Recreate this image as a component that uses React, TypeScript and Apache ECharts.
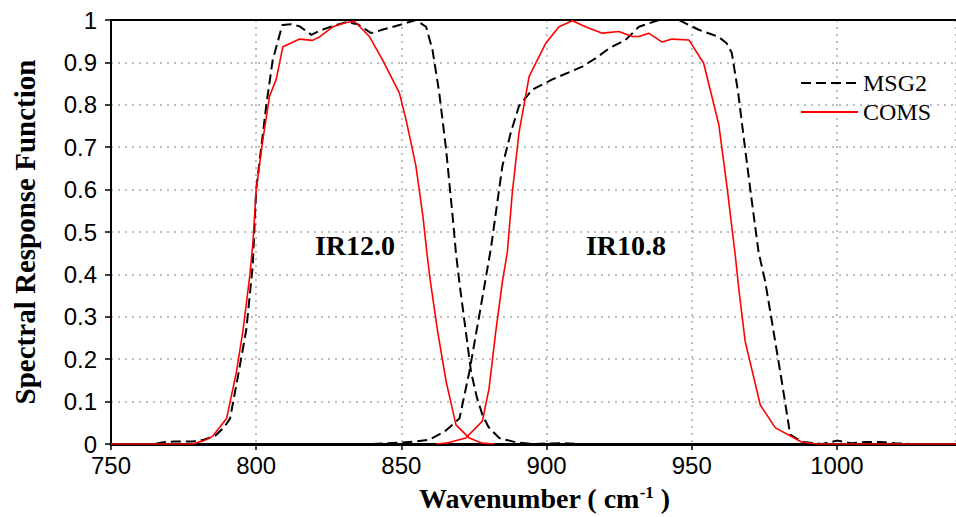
import React, { useEffect, useRef } from "react";
import * as echarts from "echarts";

// ---- data (wavenumber cm-1, spectral response) ----
const msg2Ir120: [number, number][] = [
  [750, 0], [765, 0], [768, 0.004], [772, 0.006], [778, 0.006], [782, 0.01], [786, 0.02], [789, 0.04],
  [791, 0.06], [794, 0.17], [796.6, 0.27], [798.8, 0.42], [800, 0.6], [803.5, 0.8], [805.7, 0.906],
  [809, 0.988], [812, 0.99], [815, 0.985], [819, 0.965], [822, 0.975], [826, 0.985], [831, 0.995],
  [835, 0.99], [839.6, 0.969], [844, 0.978], [849.3, 0.988], [855, 1.0], [858.5, 0.984], [860.7, 0.93],
  [863, 0.83], [865.4, 0.695], [867.6, 0.54], [868.8, 0.45], [870, 0.38], [872.2, 0.265], [874, 0.17],
  [876, 0.11], [877.9, 0.069], [880, 0.04], [883.7, 0.014], [889.4, 0.004], [895, 0], [905, 0.002],
  [912, 0],
];
const msg2Ir108: [number, number][] = [
  [840, 0], [849.3, 0.003], [855, 0.006], [859.6, 0.01], [865, 0.03], [870, 0.06], [873.4, 0.17],
  [877, 0.31], [880.8, 0.46], [884.8, 0.656], [887.7, 0.735], [890.5, 0.797], [895.1, 0.836], [902, 0.86],
  [912.3, 0.89], [917, 0.91], [921.5, 0.933], [927.2, 0.953], [931.8, 0.984], [938.7, 1.0], [945.5, 1.0],
  [952.4, 0.977], [959.3, 0.96], [962, 0.945], [963.8, 0.922], [966, 0.828], [968.4, 0.695], [970.6, 0.577],
  [973, 0.453], [975.3, 0.383], [977.6, 0.289], [981, 0.148], [983.9, 0.022], [987.9, 0.005], [995, 0],
  [1000, 0.008], [1005, 0.002], [1010, 0.005], [1015, 0.005], [1020, 0.002], [1025, 0], [1041, 0],
];
const comsIr120: [number, number][] = [
  [750, 0], [778, 0], [782, 0.008], [785, 0.018], [789.8, 0.06], [793.2, 0.17], [795.5, 0.27],
  [797.8, 0.397], [798.9, 0.476], [800, 0.6], [802.3, 0.718], [804.6, 0.82], [806.9, 0.86], [809.2, 0.937],
  [815, 0.955], [819.4, 0.952], [821.8, 0.96], [826.4, 0.984], [831, 0.994], [833.8, 0.997], [839, 0.961],
  [843.5, 0.906], [849.3, 0.828], [851.6, 0.765], [855, 0.656], [857.4, 0.538], [858.8, 0.45],
  [860, 0.383], [862.5, 0.265], [865.4, 0.148], [868.8, 0.045], [873.4, 0.014], [877.8, 0.002], [882, 0],
];
const comsIr108: [number, number][] = [
  [862, 0], [865.4, 0.002], [872.2, 0.014], [877.9, 0.054], [880.2, 0.131], [882.5, 0.265], [884.8, 0.383],
  [886.5, 0.453], [888.2, 0.593], [890.5, 0.734], [894, 0.867], [899.7, 0.945], [904.3, 0.984],
  [908.9, 0.998], [913.4, 0.984], [919.2, 0.969], [924.9, 0.973], [929.5, 0.961], [931.8, 0.961],
  [935.2, 0.969], [939.8, 0.948], [943.2, 0.955], [949, 0.953], [954.1, 0.898], [959.3, 0.754],
  [962.1, 0.609], [965, 0.444], [966.2, 0.366], [968.4, 0.242], [973.6, 0.092], [978.8, 0.038],
  [988, 0.004], [993.5, 0], [1041, 0],
];
const seriesNames = ["MSG2", "COMS"];
const bandLabels = ["IR12.0", "IR10.8"];
const xMin = 750;
const xMax = 1041;

const SERIF = "'Liberation Serif', 'Times New Roman', serif";
const SANS = "'Liberation Sans', Arial, sans-serif";

export default function App() {
  const ref = useRef<HTMLDivElement>(null);
  useEffect(() => {
    if (!ref.current) return;
    const chart = echarts.init(ref.current, undefined, { renderer: "svg" });
    const msgStyle = { color: "#000", width: 2, type: [10, 5] as number[] };
    const comsStyle = { color: "#ff0000", width: 1.6, type: "solid" as const };
    const mk = (name: string, data: [number, number][], ls: any) => ({
      name,
      type: "line",
      data,
      symbol: "none",
      showSymbol: false,
      lineStyle: ls,
      itemStyle: { color: ls.color },
      xAxisIndex: 0,
      yAxisIndex: 0,
    });
    chart.setOption({
      animation: false,
      backgroundColor: "#fff",
      grid: { left: 111, right: 0, top: 20, bottom: 71 },
      legend: {
        data: seriesNames,
        orient: "vertical",
        left: 795,
        top: 66,
        itemWidth: 57,
        itemHeight: 14,
        itemGap: 5,
        itemStyle: { opacity: 0 },
        textStyle: { fontFamily: SERIF, fontSize: 24, color: "#000" },
      },
      xAxis: [
        {
          type: "value",
          min: xMin,
          max: xMax,
          interval: 50,
          name: "Wavenumber ( cm{sup|-1} )",
          nameLocation: "middle",
          nameGap: 40,
          nameTextStyle: {
            fontFamily: SERIF,
            fontWeight: "bold",
            fontSize: 28,
            color: "#000",
            padding: [0, 0, 0, 22],
            rich: {
              sup: { fontFamily: SERIF, fontWeight: "bold", fontSize: 17, color: "#000", verticalAlign: "top", padding: [0, 0, 10, 0] },
            },
          },
          axisLine: { show: true, lineStyle: { color: "#000", width: 3 } },
          axisTick: { show: true, length: 6, lineStyle: { color: "#000", width: 1.5 } },
          axisLabel: {
            margin: 9,
            fontFamily: SANS,
            fontSize: 24,
            color: "#000",
            showMaxLabel: false,
            formatter: (v: number) => (v % 50 === 0 ? String(v) : ""),
          },
          splitLine: { show: true, lineStyle: { color: "#aaa", width: 1.5, type: [2, 5] } },
        },
        {
          type: "value",
          position: "top",
          min: xMin,
          max: xMax,
          interval: 50,
          axisLine: { show: true, lineStyle: { color: "#000", width: 2 } },
          axisTick: { show: false },
          axisLabel: { show: false },
          splitLine: { show: false },
        },
      ],
      yAxis: {
        type: "value",
        min: 0,
        max: 1,
        interval: 0.1,
        name: "Spectral Response Function",
        nameLocation: "middle",
        nameRotate: 90,
        nameGap: 72,
        nameTextStyle: { fontFamily: SERIF, fontWeight: "bold", fontSize: 29, color: "#000" },
        axisLine: { show: true, lineStyle: { color: "#000", width: 2 } },
        axisTick: { show: true, length: 6, lineStyle: { color: "#000", width: 1.5 } },
        axisLabel: {
          margin: 14,
          fontFamily: SANS,
          fontSize: 24,
          color: "#000",
          formatter: (v: number) => (v === 0 ? "0" : v === 1 ? "1" : v.toFixed(1)),
        },
        splitLine: { show: true, lineStyle: { color: "#aaa", width: 1.5, type: [2, 5] } },
      },
      graphic: [
        {
          type: "text",
          x: 355,
          y: 245,
          style: { text: bandLabels[0], fontFamily: SERIF, fontWeight: "bold", fontSize: 28, fill: "#000", align: "center", verticalAlign: "middle" },
        },
        {
          type: "text",
          x: 626,
          y: 245,
          style: { text: bandLabels[1], fontFamily: SERIF, fontWeight: "bold", fontSize: 28, fill: "#000", align: "center", verticalAlign: "middle" },
        },
      ],
      series: [
        mk(seriesNames[0], msg2Ir120, msgStyle),
        mk(seriesNames[0], msg2Ir108, msgStyle),
        mk(seriesNames[1], comsIr120, comsStyle),
        mk(seriesNames[1], comsIr108, comsStyle),
      ],
    });
    return () => chart.dispose();
  }, []);
  return (
    <div
      ref={ref}
      style={{ position: "absolute", left: 0, top: 0, width: 956, height: 517, background: "#fff" }}
    />
  );
}
